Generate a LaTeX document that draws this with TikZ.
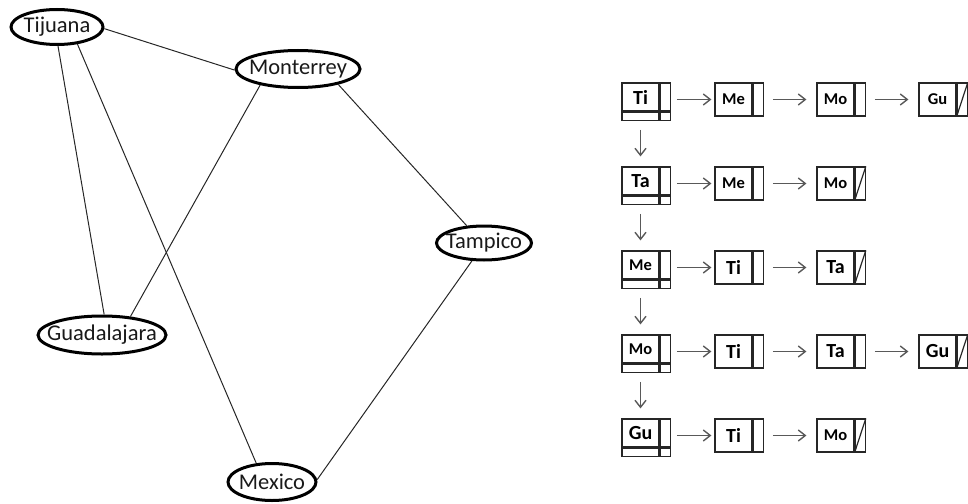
\documentclass[tikz,border=0pt]{standalone}
\usepackage{fontspec}
\setmainfont{Carlito}
\usetikzlibrary{arrows.meta,shapes.geometric}

% font sizes for the list labels
\newcommand{\lbig}{\fontsize{20}{22}\selectfont\bfseries}
\newcommand{\lsmall}{\fontsize{16.5}{19}\selectfont\bfseries}

% a list cell: data part #1 centred at x=#2, top edge at y=#3, label #4
\newcommand{\lcell}[4]{%
  \node[dcell] (#1) at (#2,#3+16.5) {#4};
  \node[pcell,anchor=west] (#1p) at (#1.east) {};
}
% a head cell: 2x2 grid, data part #1 centred at x=#2, top edge at y=#3
\newcommand{\hcell}[4]{%
  \node[hdata] (#1) at (#2,#3+14) {#4};
  \node[hptr,anchor=west] (#1p) at (#1.east) {};
  \node[hstrip,anchor=north] (#1s) at (#1.south) {};
  \node[hstripp,anchor=north] (#1sp) at (#1p.south) {};
}

\begin{document}
\begin{tikzpicture}[x=1pt,y=-1pt,
  city/.style={ellipse,draw=black,line width=3pt,inner sep=0pt},
  cityname/.style={font=\fontsize{22.5}{26}\selectfont,text=black!90,inner sep=0pt},
  edge/.style={draw=black!85,line width=1pt},
  dcell/.style={draw=black!85,line width=1.2pt,minimum width=37pt,minimum height=33pt,inner sep=0pt},
  pcell/.style={draw=black!85,line width=1.2pt,minimum width=10pt,minimum height=33pt,inner sep=0pt},
  hdata/.style={draw=black!85,line width=1.2pt,minimum width=37pt,minimum height=28pt,inner sep=0pt},
  hptr/.style={draw=black!85,line width=1.2pt,minimum width=10pt,minimum height=28pt,inner sep=0pt},
  hstrip/.style={draw=black!85,line width=1.2pt,minimum width=37pt,minimum height=8pt,inner sep=0pt},
  hstripp/.style={draw=black!85,line width=1.2pt,minimum width=10pt,minimum height=8pt,inner sep=0pt},
  nullp/.style={draw=black!85,line width=1.2pt},
  link/.style={draw=black!65,line width=1.4pt,-{Straight Barb[length=7pt,width=11pt]}},
]
\useasboundingbox (0,0) rectangle (968,503);

% ---- graph of cities (ellipse of fixed size, name laid over its centre) ----
\node[city,minimum width=92pt,minimum height=35pt,
      label={[cityname]center:Tijuana}]      (tij) at (57,27)   {};
\node[city,minimum width=124pt,minimum height=37pt,
      label={[cityname]center:Monterrey}]    (mon) at (298,69)  {};
\node[city,minimum width=95pt,minimum height=34pt,
      label={[cityname]center:Tampico}]      (tam) at (484,243) {};
\node[city,minimum width=128pt,minimum height=38pt,
      label={[cityname]center:Guadalajara}]  (gua) at (102,335) {};
\node[city,minimum width=88pt,minimum height=37pt,
      label={[cityname]center:Mexico}]       (mex) at (272,482) {};

\draw[edge] (tij.358) -- (mon.181);
\draw[edge] (tij.273) -- (gua.84);
\draw[edge] (tij.320) -- (mex.130);
\draw[edge] (mon.203) -- (gua.33);
\draw[edge] (mon.339) -- (tam.135);
\draw[edge] (tam.236) -- (mex.3);

% ---- adjacency lists ----
% row 1
\hcell{h1}{640.5}{83}{\lbig Ti}
\lcell{a12}{733.5}{83}{\lsmall Me}
\lcell{a13}{835.5}{83}{\lsmall Mo}
\lcell{a14}{937.5}{83}{\lsmall Gu}
% row 2
\hcell{h2}{640.5}{167}{\lbig Ta}
\lcell{a22}{733.5}{167}{\lsmall Me}
\lcell{a23}{835.5}{167}{\lsmall Mo}
% row 3
\hcell{h3}{640.5}{251}{\lsmall Me}
\lcell{a32}{733.5}{251}{\lbig Ti}
\lcell{a33}{835.5}{251}{\lbig Ta}
% row 4
\hcell{h4}{640.5}{335}{\lsmall Mo}
\lcell{a42}{733.5}{335}{\lbig Ti}
\lcell{a43}{835.5}{335}{\lbig Ta}
\lcell{a44}{937.5}{335}{\lbig Gu}
% row 5
\hcell{h5}{640.5}{419}{\lbig Gu}
\lcell{a52}{733.5}{419}{\lbig Ti}
\lcell{a53}{835.5}{419}{\lsmall Mo}

% null pointers
\foreach \n in {a14p,a23p,a33p,a44p,a53p}
  \draw[nullp] (\n.south west) -- (\n.north east);

% links along each row
\foreach \r/\last in {1/4,2/3,3/3,4/4,5/3}{
  \draw[link,shorten <=6pt,shorten >=3pt] (a\r2.west -| h\r p.east) -- (a\r2.west);
  \draw[link,shorten <=9pt,shorten >=10pt] (a\r2p.east) -- (a\r3.west);
  \ifnum\last=4
    \draw[link,shorten <=9pt,shorten >=10pt] (a\r3p.east) -- (a\r4.west);
  \fi
}

% links between list heads
\foreach \a/\b in {1/2,2/3,3/4,4/5}
  \draw[link,shorten <=9pt,shorten >=10pt] (h\a s.south) -- (h\b.north);
\end{tikzpicture}
\end{document}
